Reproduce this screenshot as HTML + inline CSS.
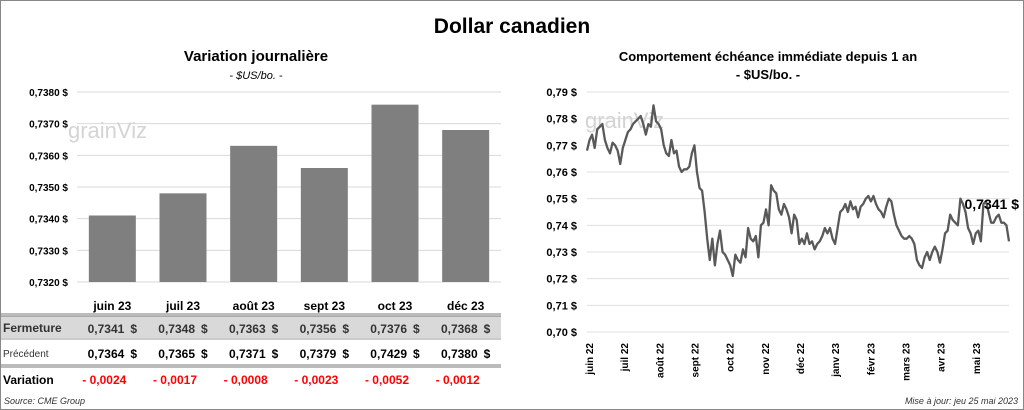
<!DOCTYPE html>
<html><head><meta charset="utf-8"><style>
body{margin:0;width:1024px;height:410px;background:#fff;font-family:"Liberation Sans",sans-serif;overflow:hidden}
#frame{position:absolute;left:0;top:0;width:1022px;height:408px;border:1px solid #888}
</style></head><body>
<div id="frame"></div>
<svg width="1024" height="410" style="position:absolute;left:0;top:0" id="svg" font-family="Liberation Sans, sans-serif">
<text x="512" y="33" text-anchor="middle" font-size="21" font-weight="bold">Dollar canadien</text>
<text x="256" y="61" text-anchor="middle" font-size="15" font-weight="bold">Variation  journalière</text>
<text x="256" y="79" text-anchor="middle" font-size="11" font-style="italic">- $US/bo. -</text>
<text x="768" y="61" text-anchor="middle" font-size="13" font-weight="bold">Comportement échéance immédiate depuis 1 an</text>
<text x="768" y="79" text-anchor="middle" font-size="13" font-weight="bold">- $US/bo. -</text>
<g id="left"></g>
<g id="right"></g>
<g id="tbl"></g>
<text x="4" y="404" font-size="9" font-style="italic" fill="#333">Source: CME Group</text>
<text x="1018" y="404" text-anchor="end" font-size="9" font-style="italic" fill="#333">Mise à jour: jeu 25 mai 2023</text>
</svg>
<script>
const months=["juin 23","juil 23","août 23","sept 23","oct 23","déc 23"];
const closeVals=[0.7341,0.7348,0.7363,0.7356,0.7376,0.7368];
const prevVals=[0.7364,0.7365,0.7371,0.7379,0.7429,0.7380];
const changeVals=[-0.0024,-0.0017,-0.0008,-0.0023,-0.0052,-0.0012];
const barTicks=[0.7320,0.7330,0.7340,0.7350,0.7360,0.7370,0.7380];
const lineTicks=[0.70,0.71,0.72,0.73,0.74,0.75,0.76,0.77,0.78,0.79];
const lineMonths=["juin 22","juil 22","août 22","sept 22","oct 22","nov 22","déc 22","janv 23","févr 23","mars 23","avr 23","mai 23"];
const lastLabel=0.7341;
const dailyVals=[0.768,0.772,0.774,0.769,0.776,0.777,0.778,0.772,0.769,0.767,0.771,0.770,0.768,0.763,0.769,0.772,0.775,0.776,0.778,0.779,0.780,0.781,0.778,0.774,0.778,0.777,0.785,0.779,0.778,0.776,0.770,0.767,0.766,0.772,0.767,0.768,0.762,0.760,0.761,0.761,0.762,0.767,0.770,0.760,0.754,0.753,0.745,0.735,0.727,0.735,0.725,0.733,0.738,0.730,0.729,0.727,0.725,0.721,0.729,0.727,0.726,0.731,0.728,0.739,0.735,0.734,0.736,0.728,0.740,0.741,0.746,0.740,0.755,0.753,0.752,0.746,0.744,0.748,0.746,0.743,0.737,0.744,0.742,0.733,0.735,0.733,0.737,0.733,0.734,0.731,0.733,0.734,0.736,0.739,0.737,0.739,0.735,0.733,0.739,0.745,0.746,0.748,0.745,0.749,0.746,0.747,0.743,0.747,0.748,0.750,0.751,0.749,0.751,0.748,0.746,0.745,0.743,0.747,0.750,0.749,0.744,0.740,0.738,0.736,0.735,0.735,0.736,0.735,0.733,0.727,0.725,0.724,0.728,0.730,0.727,0.730,0.732,0.730,0.726,0.731,0.737,0.738,0.744,0.742,0.741,0.740,0.750,0.748,0.745,0.739,0.737,0.733,0.737,0.738,0.734,0.748,0.749,0.745,0.741,0.741,0.743,0.744,0.741,0.741,0.740,0.734];
const NS="http://www.w3.org/2000/svg";
function mk(p,t,a,txt){const e=document.createElementNS(NS,t);for(const k in a)e.setAttribute(k,a[k]);if(txt!=null)e.textContent=txt;p.appendChild(e);return e;}
const fmt4=v=>v.toFixed(4).replace('.',',');
// bar chart
const L=document.getElementById('left');
const bx0=77,bx1=501,by=v=>92+(0.7380-v)*190/0.0060;
barTicks.forEach(t=>{
 const g=mk(L,'line',{x1:bx0,x2:bx1,y1:by(t),y2:by(t),stroke:'#d9d9d9'});
 
 const l=mk(L,'text',{x:68,y:by(t)+4,'text-anchor':'end','font-size':10,'font-weight':'bold'},fmt4(t)+' $');
 
});
mk(L,'text',{x:68,y:138,'font-size':22,fill:'#d4d4d4'},'grainViz');
const bw=(bx1-bx0)/months.length;
closeVals.forEach((v,i)=>{
 const r=mk(L,'rect',{x:bx0+bw*i+(bw-47)/2,y:by(v),width:47,height:by(0.7320)-by(v),fill:'#7f7f7f'});
 
});
// table
const T=document.getElementById('tbl');
mk(T,'rect',{x:1,y:316,width:500,height:22,fill:'#d9d9d9'});
mk(T,'line',{x1:1,x2:501,y1:314,y2:314,stroke:'#777','stroke-width':1});
mk(T,'line',{x1:1,x2:501,y1:316,y2:316,stroke:'#777','stroke-width':1});
mk(T,'line',{x1:1,x2:501,y1:339,y2:339,stroke:'#999'});
mk(T,'line',{x1:1,x2:501,y1:365,y2:365,stroke:'#777'});
mk(T,'line',{x1:1,x2:501,y1:367,y2:367,stroke:'#777'});
let h=mk(T,'text',{x:3,y:332,'font-size':12,'font-weight':'bold',fill:'#333'},'Fermeture');
h=mk(T,'text',{x:3,y:357,'font-size':10,fill:'#333'},'Précédent');
h=mk(T,'text',{x:3,y:384,'font-size':12,'font-weight':'bold'},'Variation');
months.forEach((m,i)=>{
 const cx=bx0+bw*i+bw/2;
 let e=mk(T,'text',{x:cx,y:310,'text-anchor':'middle','font-size':12,'font-weight':'bold'},m);
 
 e=mk(T,'text',{x:cx+12,y:333,'text-anchor':'end','font-size':12,'font-weight':'bold',fill:'#333'},fmt4(closeVals[i]));
 
 mk(T,'text',{x:cx+18,y:333,'font-size':12,'font-weight':'bold',fill:'#333'},'$');
 e=mk(T,'text',{x:cx+12,y:358,'text-anchor':'end','font-size':12,'font-weight':'bold'},fmt4(prevVals[i]));
 
 mk(T,'text',{x:cx+18,y:358,'font-size':12,'font-weight':'bold'},'$');
 const d=changeVals[i];
 e=mk(T,'text',{x:cx-8,y:384,'text-anchor':'middle','font-size':12,'font-weight':'bold',fill:'#f00'},(d<0?'- ':'+ ')+fmt4(Math.abs(d)));
 
});
// line chart
const R=document.getElementById('right');
const lx0=587,lx1=1009,ly=v=>92+(0.79-v)*240/0.09;
lineTicks.forEach(t=>{
 const g=mk(R,'line',{x1:lx0,x2:lx1,y1:ly(t),y2:ly(t),stroke:'#e0e0e0'});
 
 const l=mk(R,'text',{x:577,y:ly(t)+4,'text-anchor':'end','font-size':11,'font-weight':'bold'},t.toFixed(2).replace('.',',')+' $');
 
});
mk(R,'text',{x:585,y:128,'font-size':22,fill:'#d4d4d4'},'grainViz');
const n=dailyVals.length,lx=i=>lx0+i*(lx1-lx0)/(n-1);
const pl=mk(R,'polyline',{points:dailyVals.map((v,i)=>lx(i)+','+ly(v)).join(' '),fill:'none',stroke:'#595959','stroke-width':2.3,'stroke-linejoin':'round'});

const lab=mk(R,'text',{x:1019,y:209,'text-anchor':'end','font-size':14,'font-weight':'bold'},fmt4(lastLabel)+' $');

const mw=(lx1-lx0)/lineMonths.length;
lineMonths.forEach((m,i)=>{
 const x=lx0+mw*i+6;
 const e=mk(R,'text',{x:0,y:0,transform:`translate(${x},343) rotate(-90)`,'text-anchor':'end','font-size':10,'font-weight':'bold'},m);
 
});
</script>
</body></html>
